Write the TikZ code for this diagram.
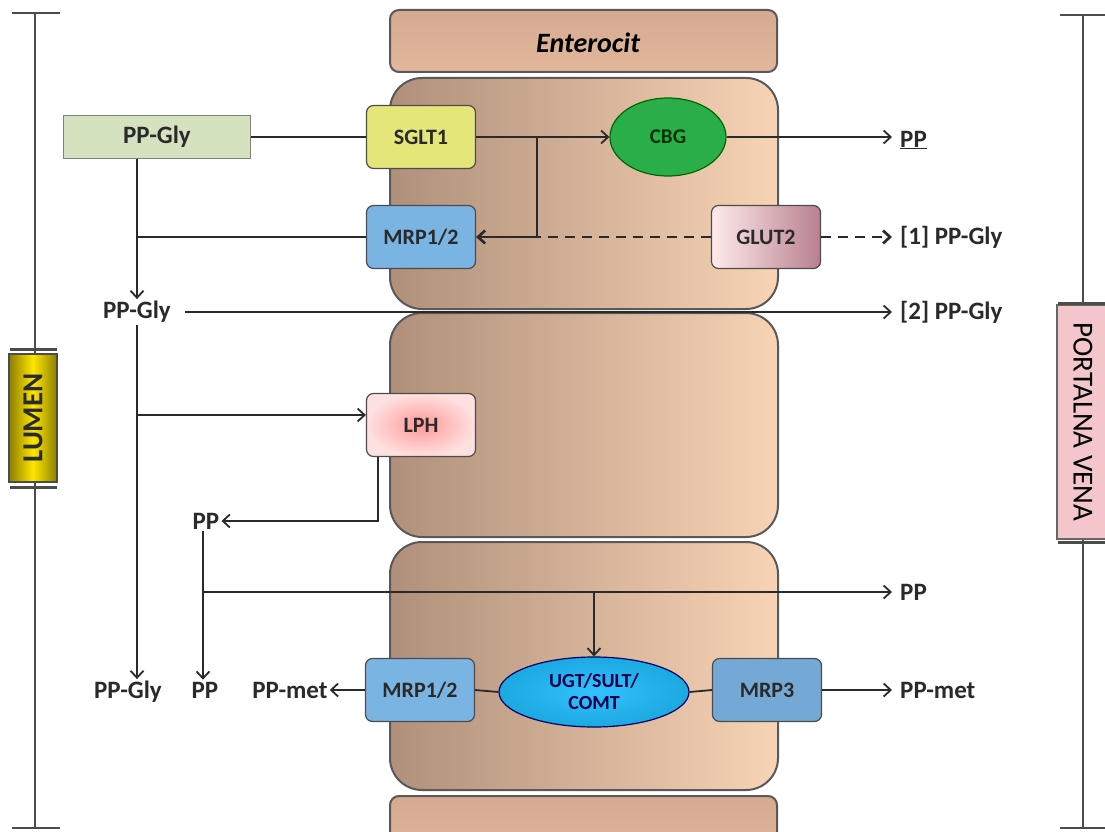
\documentclass[tikz,border=0pt]{standalone}
\usepackage{fontspec}
\setmainfont{Carlito}
\usetikzlibrary{shapes,arrows.meta}

\definecolor{inkc}{HTML}{2A2A2A}
\definecolor{cellL}{HTML}{B0907B}
\definecolor{cellR}{HTML}{F8D3B5}
\definecolor{capT}{HTML}{D6AA91}
\definecolor{capM}{HTML}{F5CDB0}
\definecolor{capB}{HTML}{E3B79B}
\definecolor{glyc}{HTML}{D5E2C0}
\definecolor{sgltc}{HTML}{E4E67A}
\definecolor{cbgc}{HTML}{2AAE4A}
\definecolor{mrpc}{HTML}{7AB4E2}
\definecolor{mrp3c}{HTML}{74A9D6}
\definecolor{glutc}{HTML}{B8808E}
\definecolor{ugtc}{HTML}{1CA8E0}
\definecolor{lumc}{HTML}{FFE600}
\definecolor{venc}{HTML}{F4C6CC}

\begin{document}
\begin{tikzpicture}[x=1pt,y=-1pt, >={Straight Barb[length=7pt,width=13pt]},
  prot/.style={draw=black!70, line width=1.2pt, rounded corners=7pt, minimum width=109pt,
    minimum height=63pt, font=\fontsize{22}{25}\selectfont\bfseries, text=inkc},
  lbl/.style={font=\fontsize{25}{28}\selectfont\bfseries, text=inkc, inner sep=2pt},
  cell/.style={draw=black!65, line width=2pt, rounded corners=32pt, left color=cellL, right color=cellR},
  capcell/.style={draw=black!65, line width=2pt, rounded corners=9pt, top color=capT, middle color=capM, bottom color=capB},
  bar/.style={draw=black!70, line width=2pt}]
  \clip (0,0) rectangle (1105,832);

  % enterocyte column
  \draw[capcell] (390,10) rectangle (777,72);
  \path (588,43) node[font=\fontsize{28}{32}\selectfont\bfseries\itshape, text=black] (ent) {Enterocit};
  \draw[cell] (390,78) rectangle (778,309);
  \draw[cell] (390,313) rectangle (778,537);
  \draw[cell] (390,542) rectangle (778,790);
  \draw[capcell] (390,796) rectangle (777,860);

  % side brackets
  \draw[bar] (12,13) -- (60,13);
  \draw[bar] (35,13) -- (35,828);
  \draw[bar] (12,828) -- (60,828);
  \draw[bar] (1060,15) -- (1105,15);
  \draw[bar] (1083,15) -- (1083,828);
  \draw[bar] (1060,828) -- (1105,828);
  \path (33,418) node[rotate=90, draw=black!70, line width=1.2pt, minimum width=128pt, minimum height=48pt,
    left color=lumc!55!black, right color=lumc!55!black, middle color=lumc,
    font=\fontsize{29}{30}\selectfont\bfseries, text=inkc] (lumen) {LUMEN};
  \draw[line width=3pt, black!70] (10,349) -- (57,349);
  \draw[line width=3pt, black!70] (10,487) -- (57,487);
  \path (1083,422) node[rotate=-90, draw=black!60, line width=1.2pt, minimum width=234pt, minimum height=52pt,
    fill=venc, font=\fontsize{29}{30}\selectfont, text=black] (vena) {PORTALNA VENA};
  \draw[line width=3pt, black!70] (1058,303) -- (1105,303);
  \draw[line width=3pt, black!70] (1058,542) -- (1105,542);

  % proteins and labels
  \path (157,137) node[draw=black!50, line width=1.2pt, fill=glyc, minimum width=187pt, minimum height=43pt,
    font=\fontsize{25}{28}\selectfont\bfseries, text=inkc] (gly) {PP-Gly};
  \path (421,137) node[prot, fill=sgltc] (sglt) {SGLT1};
  \path (668,137) node[ellipse, draw=green!40!black, line width=1.2pt, fill=cbgc, minimum width=116pt,
    minimum height=78pt, font=\fontsize{21}{24}\selectfont\bfseries, text=green!20!black] (cbg) {CBG};
  \path (421,237) node[prot, fill=mrpc] (mrpa) {MRP1/2};
  \path (766,237) node[prot, left color=white!92!red, right color=glutc] (glut) {GLUT2};
  \path (898,140) node[lbl, anchor=west] (ppa) {\underline{PP}};
  \path (898,237) node[lbl, anchor=west] (glya) {[1] PP-Gly};
  \path (137,312) node[lbl] (glyb) {PP-Gly};
  \path (898,312) node[lbl, anchor=west] (glyc) {[2] PP-Gly};
  \path (421,425) node[prot, inner color=red!40!white, outer color=red!12!white] (lph) {LPH};
  \path (206,521) node[lbl] (ppb) {PP};
  \path (898,592) node[lbl, anchor=west] (ppc) {PP};
  \path (128,692) node[lbl] (glyd) {PP-Gly};
  \path (205,690) node[lbl] (ppd) {PP};
  \path (290,690) node[lbl] (meta) {PP-met};
  \path (420,690) node[prot, fill=mrpc] (mrpb) {MRP1/2};
  \path (594,692) node[ellipse, draw=blue!40!black, line width=1.2pt, inner color=cyan!70!blue!80!white, outer color=ugtc,
    minimum width=190pt, minimum height=70pt, align=center, font=\fontsize{20}{22}\selectfont\bfseries,
    text=blue!30!black] (ugt) {UGT/SULT/\\COMT};
  \path (767,690) node[prot, fill=mrp3c] (mrp3) {MRP3};
  \path (898,690) node[lbl, anchor=west] (metb) {PP-met};

  \coordinate (jsg) at (537,137);
  \coordinate (jlp) at (137,415);

  % transport routes
  \begin{scope}[draw=inkc, line width=1.8pt, ->]
    \draw[-] (gly.east) -- (sglt.west);
    \draw (sglt.east) -- (cbg.west);
    \draw[line width=2.7pt] (jsg) |- (mrpa.east);
    \draw[-, line width=2.7pt] (mrpa.west) -- (mrpa.west -| glyb.north);
    \draw[-, line width=2.7pt, dash pattern=on 10pt off 7pt] (glut.west) -- (jsg |- glut.west);
    \draw[line width=2.7pt, dash pattern=on 10pt off 7pt, shorten >=6pt] (glut.east) -- (glya.west);
    \draw[shorten >=6pt] (cbg.east) -- (ppa.west |- cbg.east);
    \draw (glyb.north |- gly.south) -- (glyb.north);
    \draw[shorten <=12pt, shorten >=6pt] (glyb.east) -- (glyc.west);
    \draw (glyb.south) -- (glyb.south |- glyd.north);
    \draw (jlp) -- (jlp -| lph.west);
    \draw ([xshift=-43pt]lph.south) |- (ppb.east);
    \draw ([xshift=-3pt]ppb.south) -- ([xshift=-3pt]ppb.south |- ppd.north);
    \draw[shorten >=6pt] ([xshift=-3pt]ppb.south |- ppc.west) -- (ppc.west);
    \draw (ugt.north |- ppc.west) -- (ugt.north);
    \draw[-] (ugt.west) -- (mrpb.east);
    \draw (mrpb.west) -- (meta.east);
    \draw[-] (ugt.east) -- (mrp3.west);
    \draw[shorten >=6pt] (mrp3.east) -- (metb.west);
  \end{scope}
\end{tikzpicture}
\end{document}
